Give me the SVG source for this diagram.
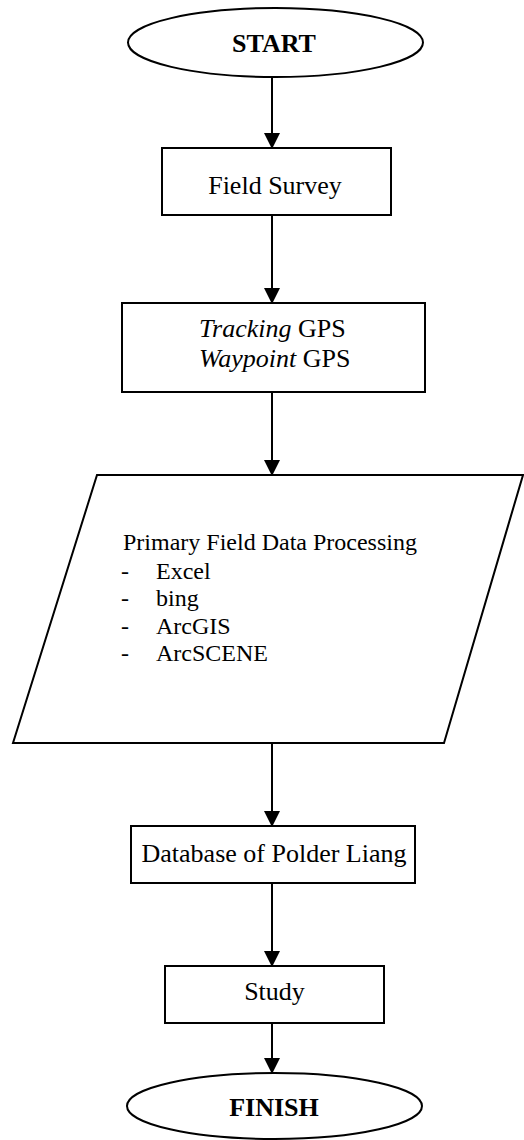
<svg xmlns="http://www.w3.org/2000/svg" width="524" height="1140" viewBox="0 0 524 1140">
<style>
.shape{fill:#fff;stroke:#000;stroke-width:2}
.t{font-family:"Liberation Serif","Times New Roman",serif;font-size:26px;fill:#000}
.b{font-weight:bold}
.p{font-size:24px}
.edge{stroke:#000;stroke-width:2;fill:none}
</style>
<defs>
<marker id="arr" markerUnits="userSpaceOnUse" markerWidth="16" markerHeight="17" refX="15" refY="8" orient="auto">
<path d="M0,0 L16,8 L0,16 Z" fill="#000"/>
</marker>
</defs>
<rect width="524" height="1140" fill="#fff"/>
<g id="connectors">
<line class="edge" x1="272" y1="77" x2="272" y2="148" marker-end="url(#arr)"/>
<line class="edge" x1="272" y1="215" x2="272" y2="303" marker-end="url(#arr)"/>
<line class="edge" x1="272" y1="392" x2="272" y2="475" marker-end="url(#arr)"/>
<line class="edge" x1="272" y1="743" x2="272" y2="826" marker-end="url(#arr)"/>
<line class="edge" x1="272" y1="883" x2="272" y2="966" marker-end="url(#arr)"/>
<line class="edge" x1="272" y1="1023" x2="272" y2="1073" marker-end="url(#arr)"/>
</g>
<g id="start">
<ellipse class="shape" cx="275.5" cy="42.5" rx="147.5" ry="34.5"/>
<text class="t b" x="274" y="52" text-anchor="middle">START</text>
</g>
<g id="field-survey">
<rect class="shape" x="162" y="148" width="229" height="67"/>
<text class="t" x="275" y="194" text-anchor="middle">Field Survey</text>
</g>
<g id="gps">
<rect class="shape" x="122" y="303" width="303" height="89"/>
<text class="t" x="199" y="337"><tspan font-style="italic">Tracking</tspan> GPS</text>
<text class="t" x="199" y="367"><tspan font-style="italic">Waypoint</tspan> GPS</text>
</g>
<g id="processing">
<polygon class="shape" points="97,475 523,475 444,743 13,743"/>
<text class="t p" x="123" y="550">Primary Field Data Processing</text>
<text class="t p" x="121" y="579">-</text><text class="t p" x="156" y="579">Excel</text>
<text class="t p" x="121" y="606">-</text><text class="t p" x="156" y="606">bing</text>
<text class="t p" x="121" y="634">-</text><text class="t p" x="156" y="634">ArcGIS</text>
<text class="t p" x="121" y="661">-</text><text class="t p" x="156" y="661">ArcSCENE</text>
</g>
<g id="database">
<rect class="shape" x="131" y="826" width="284" height="57"/>
<text class="t" x="274" y="862" text-anchor="middle">Database of Polder Liang</text>
</g>
<g id="study">
<rect class="shape" x="165" y="966" width="219" height="57"/>
<text class="t" x="274.5" y="1000" text-anchor="middle">Study</text>
</g>
<g id="finish">
<ellipse class="shape" cx="274.5" cy="1106" rx="147.5" ry="33"/>
<text class="t b" x="274" y="1116" text-anchor="middle">FINISH</text>
</g>
</svg>
